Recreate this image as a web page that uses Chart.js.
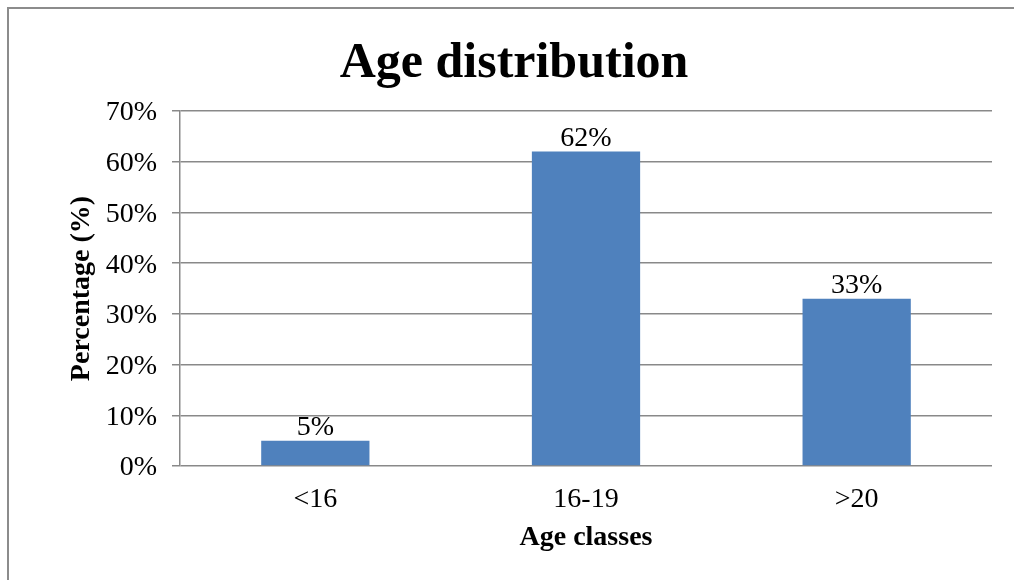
<!DOCTYPE html>
<html>
<head>
<meta charset="utf-8">
<script src="https://cdn.jsdelivr.net/npm/chart.js@4.4.0/dist/chart.umd.min.js"></script>
<style>
  html, body { margin: 0; padding: 0; background: #ffffff; }
  #wrap { width: 1014px; height: 580px; position: relative; }
  canvas { display: block; }
</style>
</head>
<body>
<div id="wrap"><canvas id="c" width="1014" height="580"></canvas></div>
<script>
const categories = ['<16', '16-19', '>20'];
const percentages = [5, 62, 33];
const yTicks = [0, 10, 20, 30, 40, 50, 60, 70];
const chartTitle = 'Age distribution';
const xTitle = 'Age classes';
const yTitle = 'Percentage (%)';

const FONT = "'Liberation Serif', 'Times New Roman', serif";
const GRID = '#898989';

const frame = {
  id: 'frame',
  beforeDraw(chart) {
    const ctx = chart.ctx;
    ctx.save();
    ctx.fillStyle = '#ffffff';
    ctx.fillRect(0, 0, chart.width, chart.height);
    ctx.strokeStyle = '#8c8c8c';
    ctx.lineWidth = 2;
    ctx.beginPath();
    ctx.moveTo(8, chart.height);
    ctx.lineTo(8, 8);
    ctx.lineTo(chart.width, 8);
    ctx.stroke();
    ctx.restore();
  }
};

const valueLabels = {
  id: 'valueLabels',
  afterDatasetsDraw(chart) {
    const ctx = chart.ctx;
    const meta = chart.getDatasetMeta(0);
    const data = chart.data.datasets[0].data;
    ctx.save();
    ctx.font = '28px ' + FONT;
    ctx.fillStyle = '#000';
    ctx.textAlign = 'center';
    ctx.textBaseline = 'alphabetic';
    meta.data.forEach((bar, i) => {
      ctx.fillText(data[i] + '%', bar.x, bar.y - 6);
    });
    ctx.restore();
  }
};

Chart.defaults.font.family = FONT;
Chart.defaults.color = '#000';

new Chart(document.getElementById('c'), {
  type: 'bar',
  data: {
    labels: categories,
    datasets: [{
      data: percentages,
      backgroundColor: '#4F81BD',
      borderWidth: 0,
      barPercentage: 0.4,
      categoryPercentage: 1.0
    }]
  },
  options: {
    responsive: false,
    animation: false,
    layout: { padding: { left: 36, right: 22, top: 0, bottom: 0 } },
    plugins: {
      legend: { display: false },
      tooltip: { enabled: false },
      title: {
        display: true,
        text: chartTitle,
        font: { size: 50, weight: 'bold', family: FONT },
        color: '#000',
        padding: { top: 34, bottom: 17 }
      }
    },
    scales: {
      x: {
        grid: { display: false, drawTicks: false },
        border: { display: false },
        ticks: { font: { size: 28 }, padding: 17, color: '#000' },
        title: {
          display: true,
          text: xTitle,
          font: { size: 28, weight: 'bold' },
          color: '#000',
          padding: { top: 0, bottom: 25 }
        },
        afterFit(scale) { scale.height = 114; }
      },
      y: {
        min: 0,
        max: 70,
        afterBuildTicks(scale) { scale.ticks = yTicks.map(v => ({ value: v })); },
        grid: { color: GRID, lineWidth: 1.5, drawTicks: true, tickLength: 8, tickColor: GRID },
        border: { display: true, color: GRID, width: 1.5 },
        ticks: {
          font: { size: 28 },
          padding: 15,
          labelOffset: 2,
          color: '#000',
          callback: v => v + '%'
        },
        title: {
          display: true,
          text: yTitle,
          font: { size: 28, weight: 'bold' },
          color: '#000',
          padding: { top: 29, bottom: 0 }
        },
        afterFit(scale) { scale.width = 144; }
      }
    }
  },
  plugins: [frame, valueLabels]
});
</script>
</body>
</html>
